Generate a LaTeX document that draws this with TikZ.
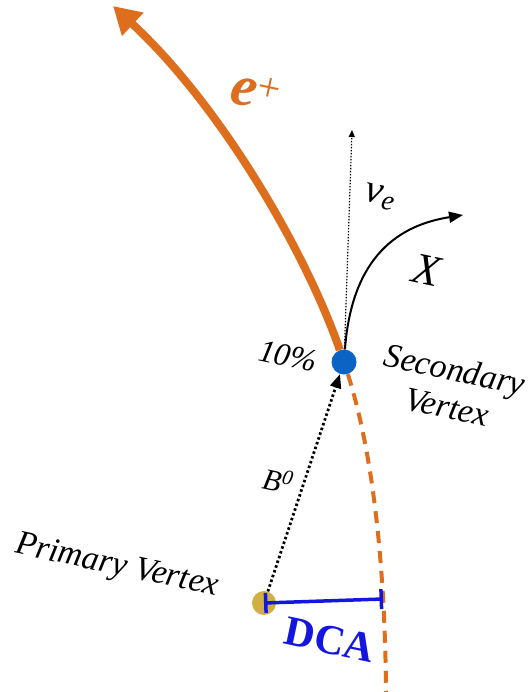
\documentclass[tikz,border=0pt]{standalone}
\usepackage{fontspec}
\setmainfont{Liberation Serif}[
  ItalicFont={Liberation Serif Italic},
  BoldFont={Liberation Serif Bold},
  BoldItalicFont={Liberation Serif Bold Italic}]
\usetikzlibrary{arrows.meta}
\definecolor{positron}{HTML}{DD6E1E}
\definecolor{secvtx}  {HTML}{0B63C4}
\definecolor{privtx}  {HTML}{CFB041}
\definecolor{dcablue} {HTML}{1515E0}

\begin{document}
\begin{tikzpicture}[x=1pt,y=-1pt,
  vtx/.style={circle,inner sep=0pt,minimum size=25pt},
  lbl/.style={font=\fontsize{34}{38}\selectfont\itshape,rotate=-12}]
  \useasboundingbox (0,0) rectangle (530,692);
  % vertices
  \node[vtx,fill=secvtx] (sv) at (344,362) {};
  \node[vtx,fill=privtx,minimum size=24pt] (pv) at (264,603) {};
  \coordinate (etip)   at (113,6);
  \coordinate (trkend) at (386,692);
  \coordinate (nutip)  at (352,130);
  \coordinate (xtip)   at (463,215);
  \coordinate (dcaend) at (383,599);
  % tracks
  \draw[positron,line width=8pt,-{Triangle[length=27pt,width=30pt]}]
    (sv) .. controls (305,250) and (220,105) .. (etip);
  \draw[positron,line width=4pt,dash pattern=on 12pt off 8pt]
    (sv) .. controls (372,450) and (385,560) .. (trkend);
  \draw[line width=1.2pt,dash pattern=on 1.5pt off 1.5pt,
    -{Triangle[length=7pt,width=6pt]}] (sv) -- (nutip);
  \draw[line width=2pt,-{Triangle[length=14pt,width=11pt]}]
    (sv) .. controls (352,255) and (400,225) .. (xtip);
  \draw[line width=2.8pt,dash pattern=on 2.5pt off 2.5pt,
    -{Triangle[length=14pt,width=11pt]}] (pv) -- (sv);
  \draw[dcablue,line width=3.5pt,{Bar[width=20pt]}-{Bar[width=20pt]}]
    (pv.center) -- (dcaend);
  % labels
  \node[lbl,font=\fontsize{58}{60}\selectfont\bfseries\itshape,text=positron]
    (elbl) at (256,92) {e\textsuperscript{\normalfont +}};
  \node[lbl,font=\fontsize{40}{42}\selectfont\itshape] (nulbl) at (380,197)
    {ν\textsubscript{e}};
  \node[lbl,font=\fontsize{44}{46}\selectfont\itshape] (xlbl) at (427,270) {X};
  \node[lbl,font=\fontsize{32}{34}\selectfont\itshape] (pct) at (288,356) {10\%};
  \node[lbl,align=center] (svlbl) at (451,388) {Secondary\\Vertex};
  \node[lbl,font=\fontsize{30}{32}\selectfont\itshape] (blbl) at (278,480)
    {B\textsuperscript{0}};
  \node[lbl] (pvlbl) at (117,567) {Primary Vertex};
  \node[lbl,font=\fontsize{42}{44}\selectfont\bfseries,text=dcablue]
    (dcalbl) at (330,640) {DCA};
\end{tikzpicture}
\end{document}
